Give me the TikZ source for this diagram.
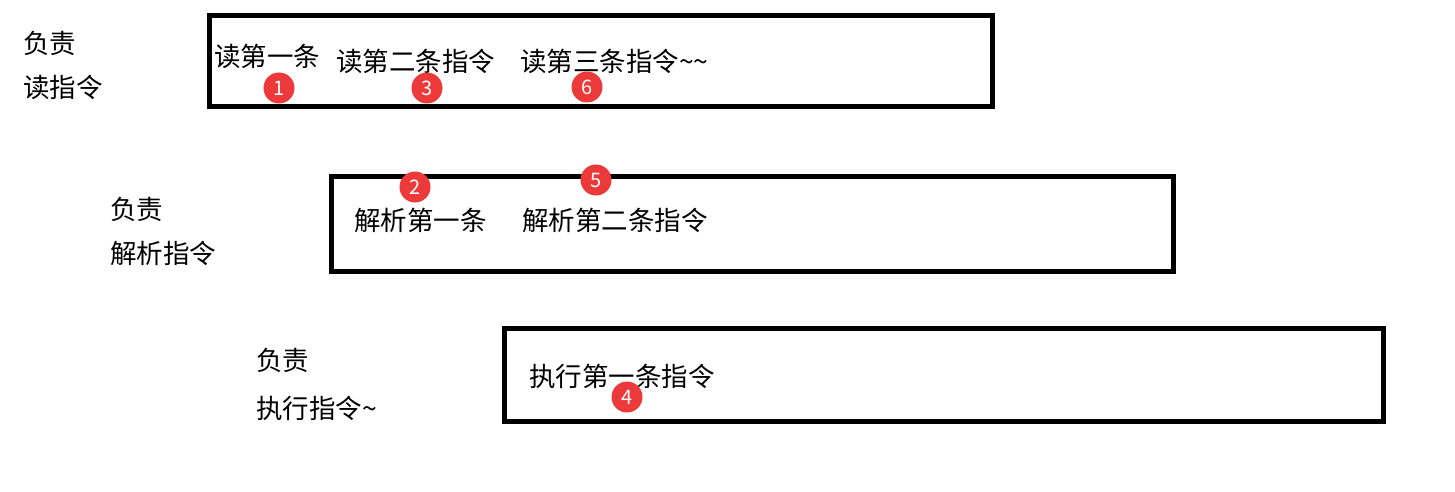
\documentclass[tikz,border=0pt]{standalone}
\usepackage{fontspec}
\setmainfont{Noto Sans CJK SC}
\usepackage{tikz}
\usetikzlibrary{positioning}
\definecolor{badgered}{RGB}{236,58,58}

\begin{document}
\begin{tikzpicture}[x=1pt,y=-1pt,
    stage/.style={draw=black, line width=5pt},
    word/.style={anchor=west, inner sep=0pt, font=\fontsize{26.5}{26.5}\selectfont},
    badge/.style={circle, fill=badgered, text=white, minimum size=31pt, inner sep=0pt, font=\fontsize{20}{20}\selectfont}]

\useasboundingbox (0,0) rectangle (1455,492);

% Stages (the three boxes)
\draw[stage] (209,16) rectangle (992,107);
\draw[stage] (331,176) rectangle (1173,271);
\draw[stage] (504,328) rectangle (1383,421);

% Left labels
\node[word] (readA) at (23,43) {负责};
\node[word] (readB) at (23,87) {读指令};
\node[word] (parseA) at (110,209) {负责};
\node[word] (parseB) at (110,253) {解析指令};
\node[word] (execA) at (256,360) {负责};
\node[word] (execB) at (256,408) {执行指令\textasciitilde};

% Read stage
\node[word] (read1) at (214,56) {读第一条};
\node[word] (read2) at (336,61) {读第二条指令};
\node[word] (read3) at (520,61) {读第三条指令\textasciitilde\textasciitilde};

% Parse stage
\node[word] (parse1) at (354,220) {解析第一条};
\node[word] (parse2) at (522,220) {解析第二条指令};

% Execute stage
\node[word] (exec1) at (529,376) {执行第一条指令};

% Order badges
\node[badge] (n1) at (279,88) {1};
\node[badge] (n2) at (415,187) {2};
\node[badge] (n3) at (427,88) {3};
\node[badge] (n4) at (627,397) {4};
\node[badge] (n5) at (596,180) {5};
\node[badge] (n6) at (587,87) {6};

\end{tikzpicture}
\end{document}
